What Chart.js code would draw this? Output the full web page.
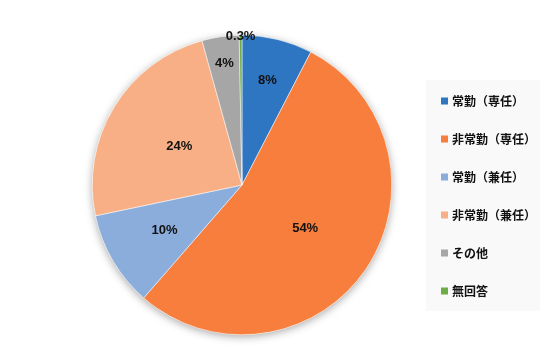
<!DOCTYPE html>
<html>
<head>
<meta charset="utf-8">
<script src="https://cdn.jsdelivr.net/npm/chart.js@4"></script>
<style>
  html, body { margin: 0; padding: 0; background: #fff; }
  #wrap { width: 555px; height: 353px; }
</style>
</head>
<body>
<div id="wrap"><canvas id="pieChart" width="555" height="353"></canvas></div>
<script>
// data (percent)
const categories = ['常勤（専任）', '非常勤（専任）', '常勤（兼任）', '非常勤（兼任）', 'その他', '無回答'];
const shares = [7.6, 53.8, 10.3, 24.0, 4.0, 0.3];
const sliceColors = ['#2E75C2', '#F77E3D', '#8BADDC', '#F9AF85', '#A6A6A6', '#6DAD47'];
// where each value label sits, as a fraction of the radius
const labelRadius = [0.72, 0.51, 0.6, 0.49, 0.82, 0.99];

const fontFamily = '"Noto Sans CJK JP", "Noto Sans", sans-serif';

// soft shadow under the pie
const pieShadow = {
    id: 'pieShadow',
    beforeDatasetsDraw(chart) {
        const arc = chart.getDatasetMeta(0).data[0];
        if (!arc) return;
        const ctx = chart.ctx;
        ctx.save();
        ctx.shadowColor = 'rgba(0,0,0,0.35)';
        ctx.shadowBlur = 9;
        ctx.shadowOffsetX = 0;
        ctx.shadowOffsetY = 2;
        ctx.fillStyle = '#fff';
        ctx.beginPath();
        ctx.arc(arc.x, arc.y, arc.outerRadius, 0, Math.PI * 2);
        ctx.fill();
        ctx.restore();
    }
};

// percent labels on the slices
const valueLabels = {
    id: 'valueLabels',
    afterDatasetsDraw(chart) {
        const ctx = chart.ctx;
        const meta = chart.getDatasetMeta(0);
        ctx.save();
        ctx.font = 'bold 13px "Liberation Sans", ' + fontFamily;
        ctx.fillStyle = '#111';
        ctx.textAlign = 'center';
        ctx.textBaseline = 'middle';
        meta.data.forEach(function (arc, i) {
            const mid = (arc.startAngle + arc.endAngle) / 2;
            const r = arc.outerRadius * labelRadius[i];
            const v = shares[i];
            const txt = (v < 1 ? v.toFixed(1) : Math.round(v)) + '%';
            ctx.fillText(txt, arc.x + Math.cos(mid) * r, arc.y + Math.sin(mid) * r);
        });
        ctx.restore();
    }
};

// legend box on the right
const sideLegend = {
    id: 'sideLegend',
    afterDraw(chart) {
        const ctx = chart.ctx;
        ctx.save();
        ctx.fillStyle = '#F9F9F9';
        ctx.fillRect(426, 80, 114, 231);
        ctx.font = 'bold 12px ' + fontFamily;
        ctx.textBaseline = 'middle';
        ctx.textAlign = 'left';
        categories.forEach(function (name, i) {
            const y = 101 + i * 38;
            ctx.fillStyle = sliceColors[i];
            ctx.fillRect(441, y - 3.5, 7, 7);
            ctx.fillStyle = '#111';
            ctx.fillText(name, 452, y);
        });
        ctx.restore();
    }
};

document.addEventListener("DOMContentLoaded", function () {
    const ctx = document.getElementById('pieChart').getContext('2d');
    new Chart(ctx, {
        type: 'pie',
        data: {
            labels: categories,
            datasets: [{
                data: shares,
                backgroundColor: sliceColors,
                borderColor: '#fff',
                borderWidth: 0.5
            }]
        },
        options: {
            responsive: false,
            animation: false,
            layout: { padding: { top: 35, bottom: 18, left: 92, right: 163 } },
            plugins: {
                legend: { display: false },
                tooltip: { enabled: false }
            }
        },
        plugins: [pieShadow, valueLabels, sideLegend]
    });
});
</script>
</body>
</html>
